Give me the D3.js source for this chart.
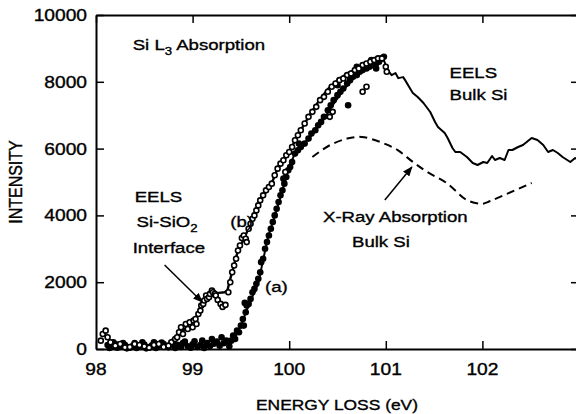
<!DOCTYPE html>
<html>
<head>
<meta charset="utf-8">
<script src="https://cdn.jsdelivr.net/npm/d3@7"></script>
<style>
  body { margin: 0; background: #fff; }
  svg { display: block; }
  text { font-family: "Liberation Sans", Arial, Helvetica, sans-serif; fill: #000; stroke: #000; stroke-width: 0.35; }
</style>
</head>
<body>
<svg id="chart" width="576" height="414"></svg>
<script>
// axis ticks
const xTicks = [98, 99, 100, 101, 102, 103];
const xTickLabels = ['98', '99', '100', '101', '102', ''];
const yTicks = [0, 2000, 4000, 6000, 8000, 10000];

// EELS bulk Si, curve (a), [energy eV, intensity]
const eelsBulk = [
  [98.1, 120], [98.4, 100], [98.8, 110], [99.2, 130], [99.36, 140], [99.41, 220],
  [99.46, 450], [99.51, 780], [99.59, 1380], [99.68, 1980], [99.73, 2660], [99.78, 3350],
  [99.87, 4160], [99.93, 4760], [99.99, 5360], [100.06, 5870], [100.15, 6150], [100.25, 6450],
  [100.35, 6850], [100.45, 7300], [100.56, 7750], [100.65, 8050], [100.73, 8270], [100.85, 8500],
  [100.97, 8720], [101.02, 8350],
  [101.06, 8200], [101.1, 8260], [101.13, 8110], [101.18, 8140], [101.2, 8050], [101.25, 7810],
  [101.28, 7665], [101.33, 7545], [101.39, 7365], [101.46, 7096], [101.51, 6796], [101.54, 6647],
  [101.61, 6467], [101.64, 6317], [101.69, 6018], [101.72, 5898], [101.77, 5898], [101.84, 5749],
  [101.9, 5569], [101.95, 5509], [102.01, 5599], [102.05, 5569], [102.1, 5778], [102.13, 5659],
  [102.18, 5719], [102.23, 5659], [102.27, 5958], [102.31, 5958], [102.37, 6048], [102.42, 6108],
  [102.51, 6317], [102.57, 6257], [102.63, 6108], [102.68, 5898], [102.73, 5958], [102.78, 5868],
  [102.83, 5749], [102.91, 5599], [102.96, 5719], [103.0, 5650]
];

// EELS Si-SiO2 interface, curve (b)
const eelsInterface = [
  [98.1, 100], [98.5, 90], [98.75, 140], [98.85, 380], [98.95, 700], [99.05, 1000],
  [99.13, 1400], [99.2, 1600], [99.27, 1680], [99.33, 1700], [99.36, 1750], [99.39, 2100],
  [99.47, 2950], [99.54, 3350], [99.63, 3950], [99.7, 4450], [99.82, 4970], [99.88, 5400],
  [99.98, 5800], [100.1, 6450], [100.2, 6950], [100.3, 7400], [100.4, 7780], [100.5, 8050],
  [100.6, 8250], [100.73, 8440], [100.85, 8580], [100.97, 8650]
];

// X-ray absorption, bulk Si
const xrayBulk = [
  [100.24, 5750], [100.42, 6100], [100.6, 6300], [100.75, 6350], [100.94, 6200], [101.12, 5960],
  [101.28, 5600], [101.43, 5300], [101.63, 4970], [101.84, 4460], [102.0, 4350], [102.08, 4430],
  [102.25, 4640], [102.51, 4970]
];

// measured points, (a) filled dots
const bulkPoints = [
  [98.12, 120], [98.16, 60], [98.2, 150], [98.25, 80], [98.3, 120], [98.35, 40], [98.4, 180],
  [98.45, 90], [98.5, 130], [98.55, 60], [98.6, 200], [98.65, 100], [98.7, 150], [98.75, 50],
  [98.8, 220], [98.85, 120], [98.9, 180], [98.95, 80], [99.0, 140], [99.05, 60], [99.1, 250],
  [99.15, 180], [99.2, 300], [99.25, 220], [99.3, 350], [99.35, 250],
  [98.14, 30], [98.18, 200], [98.22, 40], [98.28, 180], [98.32, 20], [98.38, 90], [98.42, 30],
  [98.48, 200], [98.52, 20], [98.58, 110], [98.62, 30], [98.68, 190], [98.72, 70], [98.78, 120],
  [98.82, 30], [98.88, 60], [98.92, 220], [98.98, 40], [99.02, 230], [99.08, 120], [99.12, 30],
  [99.18, 90], [99.22, 160], [99.28, 100], [99.32, 170], [99.38, 80],
  [99.4, 250], [99.42, 400], [99.44, 300], [99.46, 550], [99.48, 500], [99.5, 700], [99.52, 900],
  [99.53, 700], [99.54, 1380], [99.55, 1100], [99.56, 1300], [99.58, 1350], [99.6, 1500],
  [99.62, 1700], [99.64, 1800], [99.66, 1950], [99.68, 2100], [99.7, 2300], [99.71, 2600],
  [99.73, 2700], [99.75, 3000], [99.77, 3200], [99.79, 3400], [99.81, 3600], [99.83, 3800],
  [99.85, 4000], [99.87, 4200], [99.89, 4400], [99.91, 4600], [99.93, 4750], [99.95, 4950],
  [99.97, 5150], [99.99, 5350], [100.01, 5450], [100.03, 5600], [100.06, 5850], [100.09, 5950],
  [100.12, 6050], [100.16, 6150], [100.2, 6300], [100.23, 6450], [100.27, 6550], [100.3, 6700],
  [100.33, 6800], [100.36, 6950], [100.4, 7150], [100.43, 7300], [100.46, 7450], [100.5, 7600],
  [100.53, 7700], [100.56, 7800], [100.6, 7950], [100.63, 8050], [100.66, 8150], [100.7, 8200],
  [100.73, 8300], [100.76, 8350], [100.8, 8400], [100.83, 8450], [100.86, 8500], [100.9, 8550],
  [100.93, 8600], [100.96, 8700], [100.98, 8750], [100.61, 7300], [100.5, 7900], [100.7, 8450],
  [100.85, 8650], [100.9, 8400], [99.94, 5100], [100.1, 6150]
];

// measured points, (b) open circles
const interfacePoints = [
  [98.05, 250], [98.07, 450], [98.1, 550], [98.12, 350], [98.2, 100], [98.3, 50], [98.4, 150],
  [98.5, 80], [98.6, 120], [98.7, 60], [98.78, 200], [98.82, 300], [98.86, 500], [98.9, 450],
  [98.15, 200], [98.25, 150], [98.35, 60], [98.45, 120], [98.55, 40], [98.65, 150], [98.75, 100],
  [98.84, 350], [98.88, 650], [98.93, 750], [98.95, 600], [98.97, 800], [99.0, 650],
  [99.01, 850], [99.03, 900], [99.04, 750], [99.06, 1050], [99.08, 1150], [99.09, 1300],
  [99.11, 1350], [99.12, 1450], [99.14, 1600], [99.15, 1500], [99.17, 1550], [99.18, 1650],
  [99.2, 1750], [99.21, 1700], [99.23, 1650], [99.24, 1600], [99.26, 1470], [99.29, 1350],
  [99.31, 1260], [99.34, 1320], [99.37, 1700], [99.39, 2000], [99.41, 2300], [99.43, 2500],
  [99.45, 2700], [99.47, 2950], [99.49, 3100], [99.51, 3320], [99.53, 3400], [99.55, 3300],
  [99.56, 3200], [99.58, 3600], [99.6, 3750], [99.62, 3900], [99.64, 4000], [99.66, 4150],
  [99.68, 4300], [99.7, 4450], [99.73, 4600], [99.76, 4750], [99.79, 4850], [99.82, 4950],
  [99.85, 5200], [99.88, 5400], [99.91, 5550], [99.94, 5650], [99.97, 5800], [100.0, 5900],
  [100.03, 6050], [100.06, 6250], [100.09, 6400], [100.12, 6550], [100.16, 6750], [100.2, 6950],
  [100.24, 7100], [100.28, 7250], [100.32, 7450], [100.36, 7550], [100.4, 7700], [100.44, 7850],
  [100.48, 7950], [100.52, 8050], [100.56, 8100], [100.6, 8200], [100.64, 8250], [100.68, 8350],
  [100.72, 8400], [100.76, 8500], [100.8, 8550], [100.84, 8600], [100.88, 8650], [100.92, 8700],
  [100.96, 8700], [101.0, 8450], [100.42, 6950], [100.45, 7100], [100.76, 7700], [100.8, 7850],
  [101.01, 8300], [99.96, 5300]
];

// text labels [energy, intensity, text]
const labels = [
  [101.66, 8110, 'EELS'],
  [101.66, 7460, 'Bulk Si'],
  [98.40, 4400, 'EELS'],
  [98.38, 2870, 'Interface'],
  [99.39, 3650, '(b)'],
  [99.75, 1710, '(a)'],
  [100.35, 3800, 'X-Ray Absorption'],
  [100.65, 3050, 'Bulk Si']
];

// arrows [from, to]
const arrows = [
  [[98.71, 2515], [99.10, 1407]],
  [[100.99, 4460], [101.27, 5450]]
];

const width = 576;
const height = 414;
const sx = 1.2; // glyph stretch of the original print

const svg = d3.select('#chart');
svg.append('rect').attr('width', width).attr('height', height).attr('fill', '#fff');

const x = d3.scaleLinear().domain([98, 103]).range([96, 579]);
const y = d3.scaleLinear().domain([0, 10000]).range([349, 15]);

const addText = (px, py, str, size, anchor) => svg.append('text')
  .attr('transform', `translate(${px},${py}) scale(${sx},1)`)
  .attr('text-anchor', anchor || 'start')
  .attr('font-size', size)
  .text(str);

// frame and inward ticks
svg.append('g')
  .attr('transform', `translate(0,${y(0)})`)
  .call(d3.axisBottom(x).tickValues(xTicks).tickSizeInner(-8).tickSizeOuter(0).tickFormat(''));
svg.append('g')
  .attr('transform', `translate(0,${y(10000)})`)
  .call(d3.axisTop(x).tickValues(xTicks).tickSizeInner(-8).tickSizeOuter(0).tickFormat(''));
svg.append('g')
  .attr('transform', `translate(${x(98)},0)`)
  .call(d3.axisLeft(y).tickValues(yTicks).tickSizeInner(-8).tickSizeOuter(0).tickFormat(''));
svg.append('g')
  .attr('transform', `translate(${x(103)},0)`)
  .call(d3.axisRight(y).tickValues(yTicks).tickSizeInner(-8).tickSizeOuter(0).tickFormat(''));
svg.selectAll('.domain').attr('stroke', '#000').attr('stroke-width', 2);
svg.selectAll('.tick line').attr('stroke', '#000').attr('stroke-width', 1.5);

xTicks.forEach((t, i) => addText(x(t), 375, xTickLabels[i], 16, 'middle'));
yTicks.forEach(t => addText(87, y(t) + 6, t, 16, 'end'));

addText(337, 410, 'ENERGY LOSS (eV)', 14.5, 'middle');
svg.append('text')
  .attr('transform', `translate(22,182) scale(${sx},1) rotate(-90)`)
  .attr('text-anchor', 'middle')
  .attr('font-size', 16)
  .text('INTENSITY');

// curves
const line = d3.line()
  .x(d => x(d[0]))
  .y(d => y(d[1]));

svg.append('path')
  .datum(eelsInterface)
  .attr('fill', 'none')
  .attr('stroke', '#000')
  .attr('stroke-width', 2.4)
  .attr('d', line);

svg.append('path')
  .datum(eelsBulk)
  .attr('fill', 'none')
  .attr('stroke', '#000')
  .attr('stroke-width', 2)
  .attr('stroke-linejoin', 'round')
  .attr('d', line);

svg.append('path')
  .datum(xrayBulk)
  .attr('fill', 'none')
  .attr('stroke', '#000')
  .attr('stroke-width', 2)
  .attr('stroke-dasharray', '8,5')
  .attr('d', line.curve(d3.curveCatmullRom));

bulkPoints.forEach(d => {
  svg.append('circle')
    .attr('cx', x(d[0]))
    .attr('cy', y(d[1]))
    .attr('r', 3.3)
    .attr('fill', '#000');
});

interfacePoints.forEach(d => {
  svg.append('circle')
    .attr('cx', x(d[0]))
    .attr('cy', y(d[1]))
    .attr('r', 2.5)
    .attr('stroke', '#000')
    .attr('stroke-width', 1.6)
    .attr('fill', '#FFF');
});

// annotations
svg.append('defs').append('marker')
  .attr('id', 'head')
  .attr('markerUnits', 'userSpaceOnUse')
  .attr('markerWidth', 10)
  .attr('markerHeight', 8)
  .attr('refX', 9)
  .attr('refY', 4)
  .attr('orient', 'auto')
  .append('path')
  .attr('d', 'M0,0 L10,4 L0,8 Z')
  .attr('fill', '#000');

arrows.forEach(a => {
  svg.append('line')
    .attr('x1', x(a[0][0]))
    .attr('y1', y(a[0][1]))
    .attr('x2', x(a[1][0]))
    .attr('y2', y(a[1][1]))
    .attr('stroke', '#000')
    .attr('stroke-width', 1.5)
    .attr('marker-end', 'url(#head)');
});

labels.forEach(d => addText(x(d[0]), y(d[1]), d[2], 15.5));

// labels with subscripts
const title = addText(x(98.38), y(8950), '', 15.5);
title.append('tspan').text('Si L');
title.append('tspan').attr('font-size', 11).attr('dy', 5).text('3');
title.append('tspan').attr('dy', -5).text(' Absorption');

const sio2 = addText(x(98.42), y(3650), '', 15.5);
sio2.append('tspan').text('Si-SiO');
sio2.append('tspan').attr('font-size', 11).attr('dy', 5).text('2');
</script>
</body>
</html>
